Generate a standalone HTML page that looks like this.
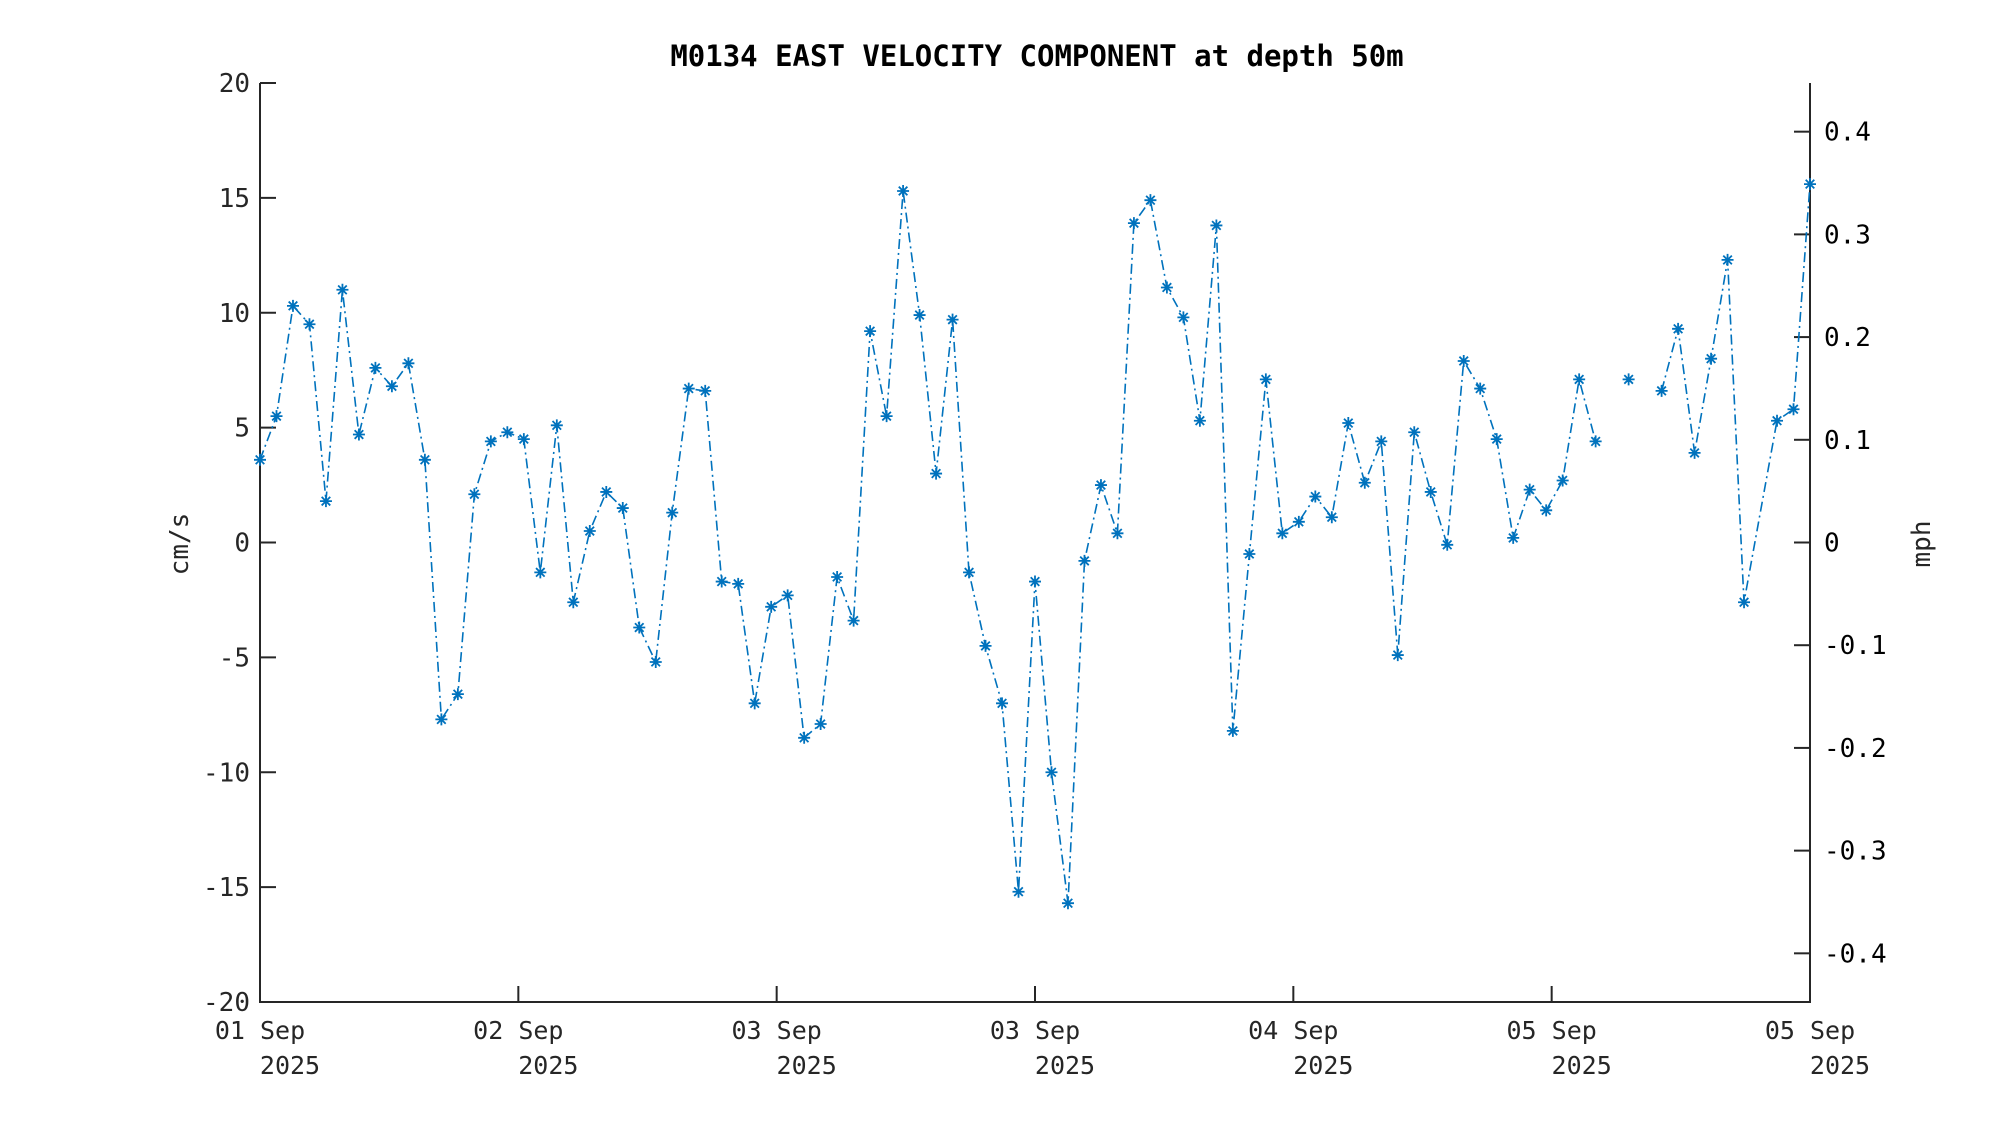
<!DOCTYPE html>
<html><head><meta charset="utf-8"><style>
html,body{margin:0;padding:0;background:#fff;}
svg{display:block;font-family:"DejaVu Sans Mono","Liberation Mono",monospace;}
</style></head><body>
<svg id="chart" width="2000" height="1125" viewBox="0 0 2000 1125">
<text x="1037" y="66" text-anchor="middle" font-size="29" font-weight="bold" fill="#000">M0134 EAST VELOCITY COMPONENT at depth 50m</text>
<g id="axes"></g>
<g id="series"></g>
<text transform="translate(188,544) rotate(-90)" text-anchor="middle" font-size="26" fill="#262626">cm/s</text>
<text transform="translate(1930,544) rotate(-90)" text-anchor="middle" font-size="26" fill="#262626">mph</text>
</svg>
<script>
const values = [3.6,5.5,10.3,9.5,1.8,11.0,4.7,7.6,6.8,7.8,3.6,-7.7,-6.6,2.1,4.4,4.8,4.5,-1.3,5.1,-2.6,0.5,2.2,1.5,-3.7,-5.2,1.3,6.7,6.6,-1.7,-1.8,-7.0,-2.8,-2.3,-8.5,-7.9,-1.5,-3.4,9.2,5.5,15.3,9.9,3.0,9.7,-1.3,-4.5,-7.0,-15.2,-1.7,-10.0,-15.7,-0.8,2.5,0.4,13.9,14.9,11.1,9.8,5.3,13.8,-8.2,-0.5,7.1,0.4,0.9,2.0,1.1,5.2,2.6,4.4,-4.9,4.8,2.2,-0.1,7.9,6.7,4.5,0.2,2.3,1.4,2.7,7.1,4.4,null,7.1,null,6.6,9.3,3.9,8.0,12.3,-2.6,null,5.3,5.8,15.6];
const isolated = [83];
const leftTicks = [-20,-15,-10,-5,0,5,10,15,20];
const rightTicks = [-0.4,-0.3,-0.2,-0.1,0,0.1,0.2,0.3,0.4];
const xTickLabels = ["01 Sep","02 Sep","03 Sep","03 Sep","04 Sep","05 Sep","05 Sep"];
const xTickYear = ["2025","2025","2025","2025","2025","2025","2025"];

const L=260,R=1810,T=83,B=1002, ymin=-20,ymax=20, nIdx=values.length-1;
const NS="http://www.w3.org/2000/svg";
const yS=v=>B-(v-ymin)/(ymax-ymin)*(B-T);
const xS=i=>L+i/nIdx*(R-L);
const xT=k=>L+k/(xTickLabels.length-1)*(R-L);
function mk(tag,attrs,parent){const e=document.createElementNS(NS,tag);for(const k in attrs)e.setAttribute(k,attrs[k]);parent.appendChild(e);return e;}
const ax=document.getElementById('axes'), sr=document.getElementById('series');
let e;
e=mk('path',{d:`M${L},${T}V${B}H${R}V${T}`,fill:'none',stroke:'#262626','stroke-width':2},ax);


leftTicks.forEach(v=>{const y=yS(v);
 e=mk('line',{x1:L,x2:L+16,y1:y,y2:y,stroke:'#262626','stroke-width':2},ax);
 
 
 e=mk('text',{x:L-10,y:y+9,'text-anchor':'end','font-size':26,fill:'#262626'},ax);e.textContent=String(v);
 
 
});
rightTicks.forEach(v=>{const y=yS(v*44.704);
 e=mk('line',{x1:R-16,x2:R,y1:y,y2:y,stroke:'#262626','stroke-width':2},ax);
 
 
 e=mk('text',{x:R+14,y:y+9,'text-anchor':'start','font-size':26,fill:'#000'},ax);e.textContent=v===0?'0':v.toFixed(1);
 
 
});
xTickLabels.forEach((s,k)=>{const x=xT(k);
 e=mk('line',{x1:x,x2:x,y1:B,y2:B-16,stroke:'#262626','stroke-width':2},ax);
 
 
 e=mk('text',{x:x,y:1039,'text-anchor':'middle','font-size':25,fill:'#262626'},ax);e.textContent=s;
 
 
 e=mk('text',{x:x+30,y:1074,'text-anchor':'middle','font-size':25,fill:'#262626'},ax);e.textContent=xTickYear[k];
 
 
});
// line
let d='',prev=null;
values.forEach((v,i)=>{if(v===null)return;const x=xS(i),y=yS(v);
 if(prev===null||isolated.includes(i)||isolated.includes(prev))d+=`M${x.toFixed(1)},${y.toFixed(1)}`;else d+=`L${x.toFixed(1)},${y.toFixed(1)}`;prev=i;});
e=mk('path',{d:d,fill:'none',stroke:'#0072BD','stroke-width':1.6,'stroke-dasharray':'10 4 2 4'},sr);


values.forEach((v,i)=>{if(v===null)return;const x=xS(i),y=yS(v),r=6,q=4.3;
 e=mk('path',{d:`M${x-r},${y}H${x+r}M${x},${y-r}V${y+r}M${x-q},${y-q}L${x+q},${y+q}M${x-q},${y+q}L${x+q},${y-q}`,stroke:'#0072BD','stroke-width':1.8,fill:'none'},sr);
 
 
});
</script>
</body></html>
